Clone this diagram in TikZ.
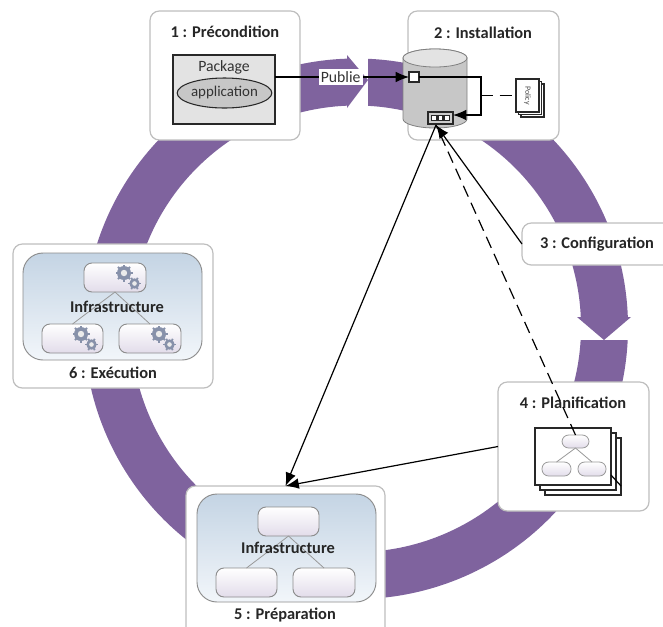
\documentclass[tikz,border=0pt]{standalone}
\usepackage{fontspec}
\setmainfont{Carlito}
\usetikzlibrary{arrows.meta,shapes.geometric,calc}

\definecolor{ringpurple}{RGB}{127,99,158}
\definecolor{boxline}{RGB}{190,190,190}
\definecolor{darkline}{RGB}{40,40,40}
\definecolor{gearblue}{RGB}{135,145,170}
\definecolor{paneltop}{RGB}{196,212,228}
\definecolor{panelbottom}{RGB}{242,246,250}
\definecolor{pillbottom}{RGB}{226,220,234}

\tikzset{every picture/.style={line width=0.75pt}}
\tikzset{
	sized/.style 2 args={minimum width=#1*0.75pt,minimum height=#2*0.75pt,inner sep=0pt,outer sep=0pt},
	stepbox/.style={draw=boxline,fill=white,line width=0.9pt,rounded corners=7pt},
	steptitle/.style={font=\bfseries\fontsize{12.3}{14}\selectfont,text=black!85,inner sep=1pt},
	plaintext/.style={font=\fontsize{11.8}{14}\selectfont,text=black!80},
	ringpart/.style={draw=ringpurple,line width=35.25pt},
	ringhead/.style={fill=ringpurple,draw=none},
	infrapanel/.style={draw=black!45,line width=0.7pt,rounded corners=15pt,top color=paneltop,bottom color=panelbottom},
	infrapill/.style={draw=black!45,line width=0.7pt,rounded corners=6pt,top color=white,bottom color=pillbottom},
	planpill/.style={draw=black!40,line width=0.6pt,rounded corners=5pt,top color=white,bottom color=pillbottom},
	treeline/.style={draw=black!40,line width=0.6pt},
	sheet/.style={draw=darkline,fill=white,line width=1pt},
	conn/.style={draw=black,line width=0.9pt,-{Latex[length=10pt,width=8pt]}},
	connplain/.style={draw=black,line width=0.9pt},
	slot/.style={draw=darkline,fill=white,line width=0.8pt,sized={5}{5.5}},
	pics/gearpair/.style={code={
		\foreach \a in {0,45,...,315} \draw[gearblue,line width=1.5pt] (\a:6) -- (\a:8.5);
		\fill[gearblue] (0,0) circle (7);
		\fill[black!8] (0,0) circle (3.2);
		\foreach \a in {0,60,...,300} \draw[gearblue,line width=1.3pt] ($(10.5,-10.5)+(\a:4)$) -- ($(10.5,-10.5)+(\a:6.5)$);
		\fill[gearblue] (10.5,-10.5) circle (5.2);
		\fill[black!8] (10.5,-10.5) circle (2.3);
	}},
}

\begin{document}
\begin{tikzpicture}[x=0.75pt,y=0.75pt,yscale=-1,xscale=1]
	\path[use as bounding box,clip] (0,0) rectangle (663,626);
	\coordinate (ringcentre) at (356,327);
	\coordinate (topcentre) at (356,330);

	%Ring, cut in two at the arrow heads
	\begin{scope}
		\clip (480,100) rectangle (663,317);
		\draw[ringpart] (ringcentre) ++(-65:248.5) arc[start angle=-65,end angle=2,radius=248.5];
	\end{scope}
	\begin{scope}
		\clip (540,340) rectangle (663,520);
		\draw[ringpart] (ringcentre) ++(-3:248.5) arc[start angle=-3,end angle=30,radius=248.5];
	\end{scope}
	\draw[ringpart] (ringcentre) ++(20:248.5) arc[start angle=20,end angle=240,radius=248.5];
	\begin{scope}
		\clip (250,30) rectangle (347,140);
		\draw[ringpart] (topcentre) ++(-115:248) arc[start angle=-115,end angle=-85,radius=248];
	\end{scope}
	\begin{scope}
		\clip (368,30) rectangle (440,140);
		\draw[ringpart] (topcentre) ++(-95:248) arc[start angle=-95,end angle=-70,radius=248];
	\end{scope}
	\fill[ringhead] (347,55) -- (368,80) -- (347,108) -- cycle;
	\fill[ringhead] (577,317) -- (631,317) -- (604,340) -- cycle;

	%Step boxes
	\node[stepbox,sized={150}{129}] (preco) at (225,75.5) {};
	\node[stepbox,sized={151}{129}] (insta) at (483.5,75.5) {};
	\node[stepbox,sized={160}{42}] (config) at (602,244) {};
	\node[stepbox,sized={151}{129}] (plan) at (573.5,446.5) {};
	\node[stepbox,sized={199}{150}] (prepa) at (285.5,561) {};
	\node[stepbox,sized={200}{144}] (exec) at (113,316) {};

	\node[steptitle] (precot) at (225,32) {1 : Précondition};
	\node[steptitle] (instat) at (483,33) {2 : Installation};
	\node[steptitle] (configt) at (597,244) {3 : Configuration};
	\node[steptitle] (plant) at (573,403) {4 : Planification};
	\node[steptitle] (prepat) at (285,615) {5 : Préparation};
	\node[steptitle] (exect) at (113,373) {6 : Exécution};

	%Package
	\node[draw=darkline,fill=black!11,line width=1pt,sized={102}{69}] (pkg) at (224,89.5) {};
	\node[plaintext,inner sep=0pt] (pkgt) at (224,67) {Package};
	\node[ellipse,draw=darkline,fill=black!22,line width=0.8pt,sized={77}{30},plaintext,font=\fontsize{11.2}{14}\selectfont] (appli) at (224.5,93) {application};

	%Repository
	\draw[draw=black!50,fill=black!22,line width=0.6pt] (403,58) -- (403,119) arc[start angle=180,end angle=0,x radius=32,y radius=9] -- (467,58) arc[start angle=0,end angle=-180,x radius=32,y radius=9] -- cycle;
	\draw[draw=black!50,fill=black!11,line width=0.6pt] (435,58) circle[x radius=32,y radius=9];
	\node[draw=darkline,fill=white,line width=1pt,sized={10}{10}] (portin) at (414,77) {};
	\node[draw=darkline,fill=black!20,line width=1pt,sized={25}{12}] (compo) at (440.5,118) {};
	\node[slot] (slota) at (434,118) {};
	\node[slot] (slotb) at (440.5,118) {};
	\node[slot] (slotc) at (447,118) {};

	%Policy
	\node[sheet,line width=0.8pt,sized={23}{33}] (policyc) at (532.5,100.5) {};
	\node[sheet,line width=0.8pt,sized={23}{33}] (policyb) at (530,98) {};
	\node[sheet,line width=0.8pt,sized={23}{33}] (policy) at (527.5,95.5) {};
	\node[rotate=-90,inner sep=0pt,font=\fontsize{6}{7}\selectfont,text=black!70] (policyt) at (527.5,95.5) {Policy};

	%Plan sheets
	\node[sheet,sized={76}{57}] (sheetc) at (583,466.5) {};
	\node[sheet,sized={76}{57}] (sheetb) at (578,461.5) {};
	\node[sheet,sized={76}{57}] (sheeta) at (573,456.5) {};
	\node[planpill,sized={27}{13}] (plantop) at (575.5,441.5) {};
	\node[planpill,sized={29}{14}] (planleft) at (556.5,469) {};
	\node[planpill,sized={28}{14}] (planright) at (592,469) {};
	\draw[treeline] (plantop.south) -- (planleft.north);
	\draw[treeline] (plantop.south) -- (planright.north);
	\coordinate (sheetnick) at (611,475);
	\coordinate (sheetnickb) at (621,486);
	\draw[connplain] (sheetnick) -- (sheetnickb);

	%Infrastructure of step 5
	\node[infrapanel,sized={179}{108}] (prepapanel) at (286.5,548) {};
	\node[infrapill,sized={61}{29}] (prepatop) at (288.5,521.5) {};
	\node[infrapill,sized={61}{29}] (prepaleft) at (246.5,582.5) {};
	\node[infrapill,sized={62}{29}] (prepright) at (324,582.5) {};
	\draw[treeline] (prepatop.south) -- (prepaleft.north);
	\draw[treeline] (prepatop.south) -- (prepright.north);
	\node[steptitle] (prepainfra) at (288,548) {Infrastructure};

	%Infrastructure of step 6
	\node[infrapanel,sized={179}{107}] (execpanel) at (112.5,306.5) {};
	\node[infrapill,sized={62}{29}] (exectop) at (115,277.5) {};
	\node[infrapill,sized={61}{29}] (execleft) at (72.5,338.5) {};
	\node[infrapill,sized={62}{29}] (execright) at (150,338.5) {};
	\draw[treeline] (exectop.south) -- (execleft.north);
	\draw[treeline] (exectop.south) -- (execright.north);
	\node[steptitle] (execinfra) at (117,307) {Infrastructure};
	\pic at (124,273) {gearpair};
	\pic at (81,334) {gearpair};
	\pic at (159,334) {gearpair};

	%Connectors
	\coordinate (loopright) at (481,115);
	\coordinate (compohub) at (436,125);
	\draw[conn] (pkg.east |- portin.west) -- node[pos=0.49,fill=white,inner sep=1.5pt,plaintext] (publie) {Publie} (portin.west);
	\draw[conn] (portin.east) -| (loopright) -- (compo.east |- loopright);
	\draw[connplain,dash pattern=on 9pt off 5pt] (loopright |- policy.west) -- (policy.west);
	\draw[conn] (config.west) -- (compohub);
	\draw[connplain,dash pattern=on 9pt off 5pt] (plantop.north) -- (compohub);
	\draw[conn] (compohub) -- (prepa.north);
	\draw[conn] (plan.west) -- (prepa.north);
\end{tikzpicture}
\end{document}
